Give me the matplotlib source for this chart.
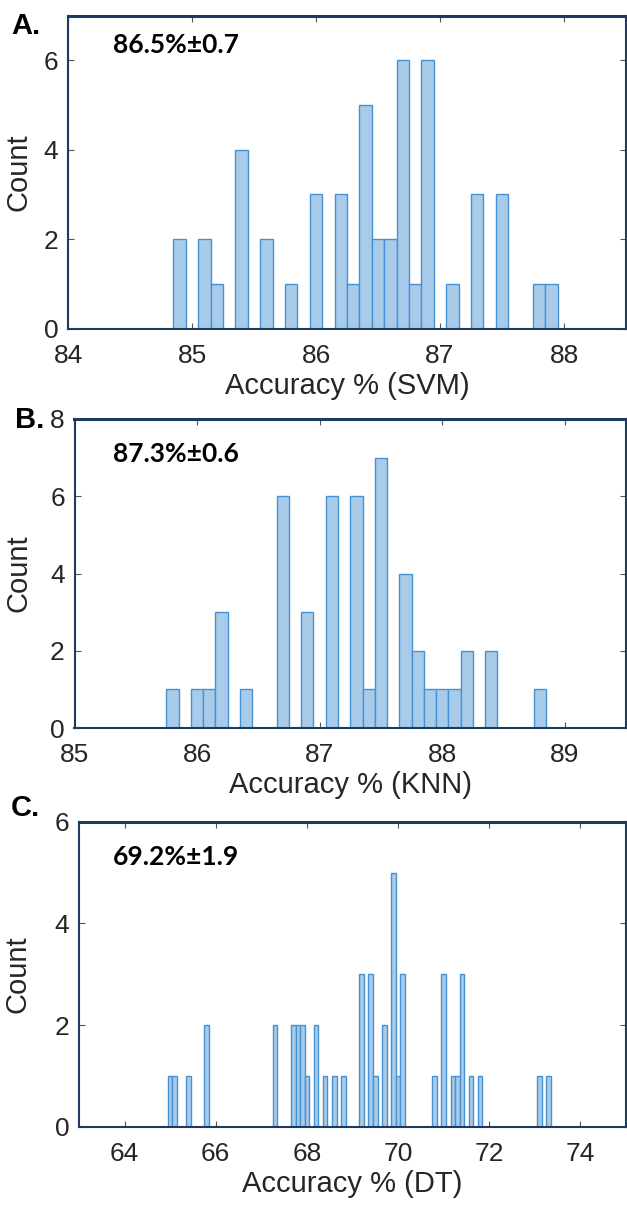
import matplotlib
matplotlib.use("Agg")
import matplotlib.pyplot as plt

# ---------------- data ----------------
svm_centers = [84.9, 85.1, 85.2, 85.4, 85.6, 85.8, 86.0, 86.2, 86.3, 86.4,
               86.5, 86.6, 86.7, 86.8, 86.9, 87.1, 87.3, 87.5, 87.8, 87.9]
svm_counts = [2, 2, 1, 4, 2, 1, 3, 3, 1, 5, 2, 2, 6, 1, 6, 1, 3, 3, 1, 1]

knn_centers = [85.8, 86.0, 86.1, 86.2, 86.4, 86.7, 86.9, 87.1, 87.3, 87.4,
               87.5, 87.7, 87.8, 87.9, 88.0, 88.1, 88.2, 88.4, 88.8]
knn_counts = [1, 1, 1, 3, 1, 6, 3, 6, 6, 1, 7, 4, 2, 1, 1, 1, 2, 2, 1]

dt_centers = [65.0, 65.1, 65.4, 65.8, 67.3, 67.7, 67.8, 67.9, 68.0, 68.2,
              68.4, 68.6, 68.8, 69.2, 69.4, 69.5, 69.7, 69.9, 70.0, 70.1,
              70.8, 71.0, 71.2, 71.3, 71.4, 71.6, 71.8, 73.1, 73.3]
dt_counts = [1, 1, 1, 2, 2, 2, 2, 2, 1, 2,
             1, 1, 1, 3, 3, 1, 2, 5, 1, 3,
             1, 3, 1, 1, 3, 1, 1, 1, 1]

bin_width = 0.1
panel_letters = ["A.", "B.", "C."]
annotations = ["86.5%\u00b10.7", "87.3%\u00b10.6", "69.2%\u00b11.9"]
xlabels = ["Accuracy % (SVM)", "Accuracy % (KNN)", "Accuracy % (DT)"]
xticks_list = [[84, 85, 86, 87, 88], [85, 86, 87, 88, 89], [64, 66, 68, 70, 72, 74]]
xlims = [(84, 88.5), (85, 89.5), (63, 75)]
yticks_list = [[0, 2, 4, 6], [0, 2, 4, 6, 8], [0, 2, 4, 6]]
ylims = [(0, 7), (0, 8), (0, 6)]

# ---------------- layout ----------------
W, H = 627, 1207
fig = plt.figure(figsize=(W / 100, H / 100), dpi=100)

# (left, top, right, bottom) in pixels
boxes = [(68, 15.5, 626, 328.7), (74.5, 419, 626, 728), (79, 821.7, 626, 1127)]
ann_pos = [(0.08, 0.905), (0.07, 0.887), (0.062, 0.883)]
ylab_x = [-0.064, -0.077, -0.086]
letter_pos = [(11, 26), (15, 420), (11, 808)]

face = "#a9cbea"
edge = "#4592d4"
spine_col = "#1f3a60"
text_col = "#262626"
tick_font = "Liberation Sans"

datasets = [(svm_centers, svm_counts), (knn_centers, knn_counts), (dt_centers, dt_counts)]

for i, (centers, counts) in enumerate(datasets):
    l, t, r, b = boxes[i]
    ax = fig.add_axes([l / W, 1 - b / H, (r - l) / W, (b - t) / H])
    ax.bar(centers, counts, width=bin_width, color=face, edgecolor=edge,
           linewidth=1.0, align="center", zorder=2)
    ax.set_xlim(*xlims[i])
    ax.set_ylim(*ylims[i])
    ax.set_xticks(xticks_list[i])
    ax.set_yticks(yticks_list[i])
    ax.tick_params(direction="in", length=4, width=0.8, color="#555555",
                   top=True, right=True, labelsize=19, labelcolor=text_col)
    ax.tick_params(axis="x", pad=11)
    ax.tick_params(axis="y", pad=7)
    for lab in ax.get_xticklabels() + ax.get_yticklabels():
        lab.set_fontfamily(tick_font)
    for s in ax.spines.values():
        s.set_color(spine_col)
        s.set_linewidth(1.5)
    ax.spines["top"].set_linewidth(2.2)
    ax.set_xlabel(xlabels[i], fontsize=21, color=text_col, family=tick_font, labelpad=3)
    ax.set_ylabel("Count", fontsize=21, color=text_col, family=tick_font)
    ax.yaxis.set_label_coords(ylab_x[i], 0.5)
    ax.text(ann_pos[i][0], ann_pos[i][1], annotations[i], transform=ax.transAxes,
            fontsize=19, fontweight="bold", family=["Lato", "DejaVu Sans"],
            ha="left", va="center", color="black")
    fig.text(letter_pos[i][0] / W, 1 - letter_pos[i][1] / H, panel_letters[i],
             fontsize=21, fontweight="bold", family="Liberation Sans",
             ha="left", va="center", color="black")

fig.savefig("out.png", dpi=100)
